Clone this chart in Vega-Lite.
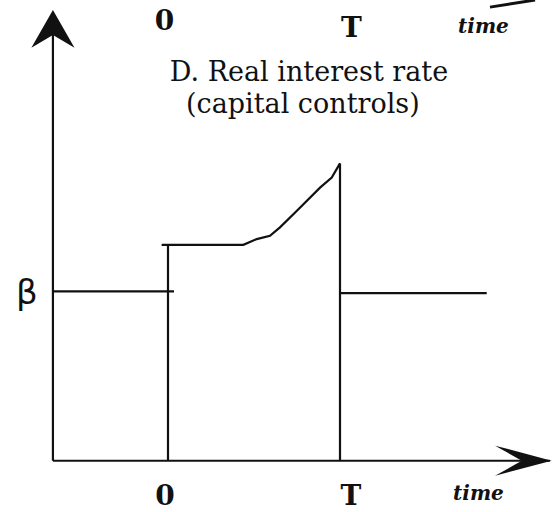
{
  "$schema": "https://vega.github.io/schema/vega-lite/v6.json",
  "autosize": {"type": "fit", "contains": "padding"},
  "width": 556,
  "height": 512,
  "padding": 0,
  "background": "white",
  "view": {"stroke": null},
  "config": {"axis": {"disable": true}},
  "datasets": {
    "segments": [
      {"seg": "yaxis", "ord": 1, "t": -6.69, "r": 0},
      {"seg": "yaxis", "ord": 2, "t": -6.69, "r": 2.6},
      {"seg": "xaxis", "ord": 1, "t": -6.69, "r": 0},
      {"seg": "xaxis", "ord": 2, "t": 22.2, "r": 0},
      {"seg": "beta_left", "ord": 1, "t": -6.69, "r": 1.0},
      {"seg": "beta_left", "ord": 2, "t": 0.35, "r": 1.0},
      {"seg": "jump0", "ord": 1, "t": 0, "r": 0},
      {"seg": "jump0", "ord": 2, "t": 0, "r": 1.275},
      {"seg": "rate", "ord": 1, "t": -0.37, "r": 1.275},
      {"seg": "rate", "ord": 2, "t": 4.38, "r": 1.275},
      {"seg": "rate", "ord": 3, "t": 5.16, "r": 1.309},
      {"seg": "rate", "ord": 4, "t": 5.93, "r": 1.328},
      {"seg": "rate", "ord": 5, "t": 6.51, "r": 1.378},
      {"seg": "rate", "ord": 6, "t": 7.48, "r": 1.475},
      {"seg": "rate", "ord": 7, "t": 8.84, "r": 1.613},
      {"seg": "rate", "ord": 8, "t": 9.52, "r": 1.672},
      {"seg": "rate", "ord": 9, "t": 10.0, "r": 1.756},
      {"seg": "dropT", "ord": 1, "t": 10.0, "r": 1.756},
      {"seg": "dropT", "ord": 2, "t": 10.0, "r": 0},
      {"seg": "after", "ord": 1, "t": 10.0, "r": 0.99},
      {"seg": "after", "ord": 2, "t": 18.53, "r": 0.99}
    ],
    "fragment": [
      {"seg": "prev", "ord": 1, "t": 18.72, "r": 2.679},
      {"seg": "prev", "ord": 2, "t": 21.34, "r": 2.721}
    ],
    "yhead": [{"t": -6.69, "r": 2.55}],
    "xhead": [{"t": 20.67, "r": 0}],
    "title": [
      {"label": "D. Real interest rate", "t": 8.2, "r": 2.241},
      {"label": "(capital controls)", "t": 7.84, "r": 2.056}
    ],
    "ticks": [
      {"label": "0", "t": -0.2, "r": 2.544},
      {"label": "T", "t": 10.67, "r": 2.503},
      {"label": "0", "t": -0.17, "r": -0.262},
      {"label": "T", "t": 10.64, "r": -0.262}
    ],
    "timelabels": [
      {"label": "time", "t": 18.34, "r": 2.526},
      {"label": "time", "t": 18.05, "r": -0.232}
    ],
    "betalabel": [{"label": "β", "t": -8.2, "r": 0.985}]
  },
  "encoding": {
    "x": {"field": "t", "type": "quantitative", "scale": {"domain": [-9.767, 22.558], "nice": false, "zero": false}},
    "y": {"field": "r", "type": "quantitative", "scale": {"domain": [-0.291, 2.721], "nice": false, "zero": false}}
  },
  "layer": [
    {
      "data": {"name": "segments"},
      "mark": {"type": "line", "color": "#111111", "strokeWidth": 2.2, "interpolate": "linear"},
      "encoding": {"detail": {"field": "seg"}, "order": {"field": "ord", "type": "quantitative"}}
    },
    {
      "data": {"name": "fragment"},
      "mark": {"type": "line", "color": "#111111", "strokeWidth": 3, "clip": true},
      "encoding": {"detail": {"field": "seg"}, "order": {"field": "ord", "type": "quantitative"}}
    },
    {
      "data": {"name": "yhead"},
      "mark": {"type": "point", "filled": true, "color": "#111111", "opacity": 1, "size": 1936, "shape": "M0,-0.86L0.98,0.86L0,0.27L-0.98,0.86Z"},
      "encoding": {}
    },
    {
      "data": {"name": "xhead"},
      "mark": {"type": "point", "filled": true, "color": "#111111", "opacity": 1, "size": 3364, "shape": "M0.97,0L-0.98,-0.52L-0.06,0L-0.98,0.52Z"},
      "encoding": {}
    },
    {
      "data": {"name": "title"},
      "mark": {"type": "text", "font": "DejaVu Serif", "fontSize": 27, "color": "#111111", "align": "center", "baseline": "alphabetic"},
      "encoding": {"text": {"field": "label"}}
    },
    {
      "data": {"name": "ticks"},
      "mark": {"type": "text", "font": "DejaVu Serif", "fontSize": 28, "fontWeight": "bold", "color": "#111111", "align": "center", "baseline": "alphabetic"},
      "encoding": {"text": {"field": "label"}}
    },
    {
      "data": {"name": "timelabels"},
      "mark": {"type": "text", "font": "DejaVu Serif", "fontSize": 20, "fontWeight": "bold", "fontStyle": "italic", "color": "#111111", "align": "center", "baseline": "alphabetic"},
      "encoding": {"text": {"field": "label"}}
    },
    {
      "data": {"name": "betalabel"},
      "mark": {"type": "text", "font": "DejaVu Sans", "fontSize": 34, "color": "#111111", "align": "center", "baseline": "middle"},
      "encoding": {"text": {"field": "label"}}
    }
  ]
}
